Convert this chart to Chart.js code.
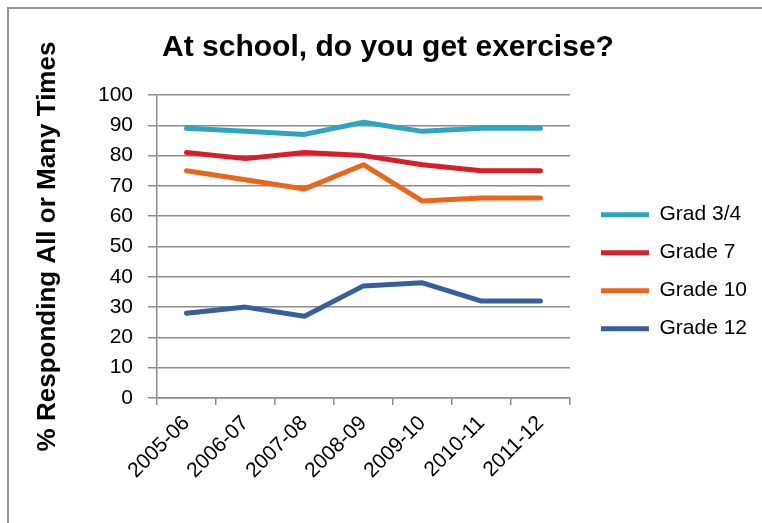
<!DOCTYPE html>
<html lang="en">
  <head>
    <meta charset="UTF-8" />
    <title>At school, do you get exercise?</title>
    <script src="https://cdn.jsdelivr.net/npm/chart.js"></script>
    <style>
      html, body { margin: 0; padding: 0; background: #fff; }
      #frame {
        position: absolute;
        left: 7px;
        top: 7px;
        width: 800px;
        height: 600px;
        border-top: 2px solid #959595;
        border-left: 2px solid #959595;
      }
      #exChart { position: absolute; left: 0; top: 0; }
    </style>
  </head>
  <body>
    <div id="frame"></div>
    <canvas id="exChart" width="762" height="523"></canvas>

    <script>
      let years = ['2005-06', '2006-07', '2007-08', '2008-09', '2009-10', '2010-11', '2011-12'];

      let grade34 = [89, 88, 87, 91, 88, 89, 89];
      let grade7 = [81, 79, 81, 80, 77, 75, 75];
      let grade10 = [75, 72, 69, 77, 65, 66, 66];
      let grade12 = [28, 30, 27, 37, 38, 32, 32];

      let seriesNames = ['Grad 3/4', 'Grade 7', 'Grade 10', 'Grade 12'];
      let seriesColors = ['#2ea3c3', '#dc1c27', '#ec651b', '#365f9d'];

      const FONT = "'Liberation Sans', Arial, sans-serif";
      const GRID = '#8c8c8c';

      function makeSet(i, values) {
        return {
          label: seriesNames[i],
          data: values,
          fill: false,
          borderColor: seriesColors[i],
          backgroundColor: seriesColors[i],
          borderWidth: 5,
          borderCapStyle: 'round',
          borderJoinStyle: 'round',
          pointRadius: 0,
          pointHoverRadius: 0,
          tension: 0,
        };
      }

      var exData = {
        labels: years,
        datasets: [
          makeSet(0, grade34),
          makeSet(1, grade7),
          makeSet(2, grade10),
          makeSet(3, grade12),
        ],
      };

      var exConfig = {
        type: 'line',
        data: exData,
        options: {
          responsive: false,
          animation: false,
          layout: { padding: { left: 19, top: 0, right: 5, bottom: 0 } },
          plugins: {
            title: {
              display: true,
              text: 'At school, do you get exercise?',
              color: '#000',
              font: { family: FONT, size: 30, weight: 'bold' },
              padding: { top: 30, bottom: 29 },
            },
            legend: {
              position: 'right',
              align: 'start',
              fullSize: false,
              maxWidth: 220,
              title: {
                display: true,
                text: ' ',
                font: { size: 1 },
                padding: { top: 91, bottom: 0 },
              },
              labels: {
                color: '#000',
                font: { family: FONT, size: 21 },
                usePointStyle: true,
                pointStyle: 'line',
                pointStyleWidth: 48,
                padding: 17,
              },
            },
            tooltip: { enabled: false },
          },
          scales: {
            x: {
              offset: true,
              grid: {
                display: true,
                offset: true,
                drawOnChartArea: false,
                drawTicks: true,
                tickLength: 7,
                color: GRID,
                lineWidth: 1.5,
              },
              border: { color: GRID, width: 1.5 },
              ticks: {
                color: '#000',
                font: { family: FONT, size: 21 },
                minRotation: 45,
                maxRotation: 45,
                padding: 6,
              },
              afterFit: function (scale) {
                scale.height = 125;
              },
            },
            y: {
              min: 0,
              max: 100,
              ticks: {
                stepSize: 10,
                color: '#000',
                font: { family: FONT, size: 21 },
                padding: 15,
              },
              grid: {
                color: GRID,
                lineWidth: 1.5,
                tickLength: 9,
              },
              border: { color: GRID, width: 1.5 },
              title: {
                display: true,
                text: '% Responding All or Many Times',
                color: '#000',
                font: { family: FONT, size: 26, weight: 'bold' },
                padding: { top: 13, bottom: 0 },
              },
              afterFit: function (scale) {
                scale.width = 138;
              },
            },
            // empty spacer between plot and legend
            gap: {
              position: 'right',
              display: true,
              grid: { display: false },
              border: { display: false },
              ticks: { display: false },
              afterFit: function (scale) {
                scale.width = 14;
              },
            },
          },
        },
      };

      var exChart = new Chart(document.getElementById('exChart'), exConfig);
    </script>
  </body>
</html>
